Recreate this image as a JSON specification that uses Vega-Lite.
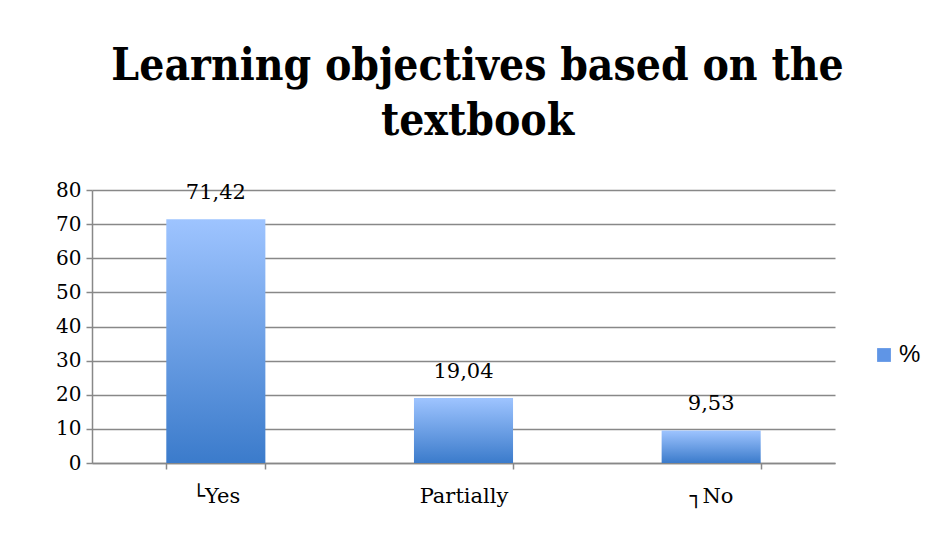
{
  "$schema": "https://vega.github.io/schema/vega-lite/v6.json",
  "width": 743,
  "height": 273,
  "autosize": {"type": "none"},
  "padding": {"left": 92, "top": 190, "right": 98, "bottom": 70},
  "background": "white",
  "config": {
    "view": {"stroke": null},
    "font": "DejaVu Serif"
  },
  "title": {
    "text": ["Learning objectives based on the", "textbook"],
    "font": "DejaVu Serif Condensed, Liberation Serif",
    "fontSize": 44,
    "fontWeight": "bold",
    "lineHeight": 55,
    "color": "#000000",
    "anchor": "middle",
    "dx": 14,
    "offset": 36
  },
  "data": {
    "values": [
      {"category": "└Yes", "value": 71.42, "label": "71,42", "series": "%"},
      {"category": "Partially", "value": 19.04, "label": "19,04", "series": "%"},
      {"category": "┐No", "value": 9.53, "label": "9,53", "series": "%"}
    ]
  },
  "encoding": {
    "x": {
      "field": "category",
      "type": "nominal",
      "sort": null,
      "scale": {"paddingInner": 0.6, "paddingOuter": 0.3},
      "axis": {
        "title": null,
        "labelAngle": 0,
        "labelFont": "DejaVu Serif",
        "labelFontSize": 21,
        "labelColor": "#000000",
        "labelPadding": 16,
        "domainColor": "#888888",
        "domainWidth": 1.5,
        "tickColor": "#888888",
        "tickWidth": 1.5,
        "tickSize": 6,
        "tickBand": "extent"
      }
    },
    "y": {
      "field": "value",
      "type": "quantitative",
      "scale": {"domain": [0, 80], "nice": false},
      "axis": {
        "title": null,
        "values": [0, 10, 20, 30, 40, 50, 60, 70, 80],
        "labelFont": "DejaVu Serif",
        "labelFontSize": 20,
        "labelColor": "#000000",
        "labelPadding": 5,
        "domainColor": "#888888",
        "domainWidth": 1.5,
        "tickColor": "#888888",
        "tickWidth": 1.5,
        "tickSize": 6,
        "gridColor": "#888888",
        "gridWidth": 1.5
      }
    }
  },
  "layer": [
    {
      "mark": {
        "type": "bar",
        "color": {
          "gradient": "linear",
          "x1": 0, "y1": 0, "x2": 0, "y2": 1,
          "stops": [
            {"offset": 0, "color": "#9EC4FF"},
            {"offset": 1, "color": "#3B7BCB"}
          ]
        }
      }
    },
    {
      "mark": {"type": "square", "opacity": 0},
      "encoding": {
        "color": {
          "field": "series",
          "type": "nominal",
          "scale": {"range": ["#5F95E6"]},
          "legend": {
            "title": null,
            "orient": "none",
            "legendX": 780,
            "legendY": 153,
            "symbolType": "square",
            "symbolSize": 190,
            "symbolOpacity": 1,
            "symbolStrokeWidth": 0,
            "labelFont": "Liberation Sans",
            "labelFontSize": 24,
            "labelColor": "#000000",
            "labelOffset": 3
          }
        }
      }
    },
    {
      "mark": {
        "type": "text",
        "baseline": "middle",
        "dy": -26,
        "font": "DejaVu Serif",
        "fontSize": 21,
        "color": "#000000"
      },
      "encoding": {
        "text": {"field": "label", "type": "nominal"}
      }
    }
  ]
}
